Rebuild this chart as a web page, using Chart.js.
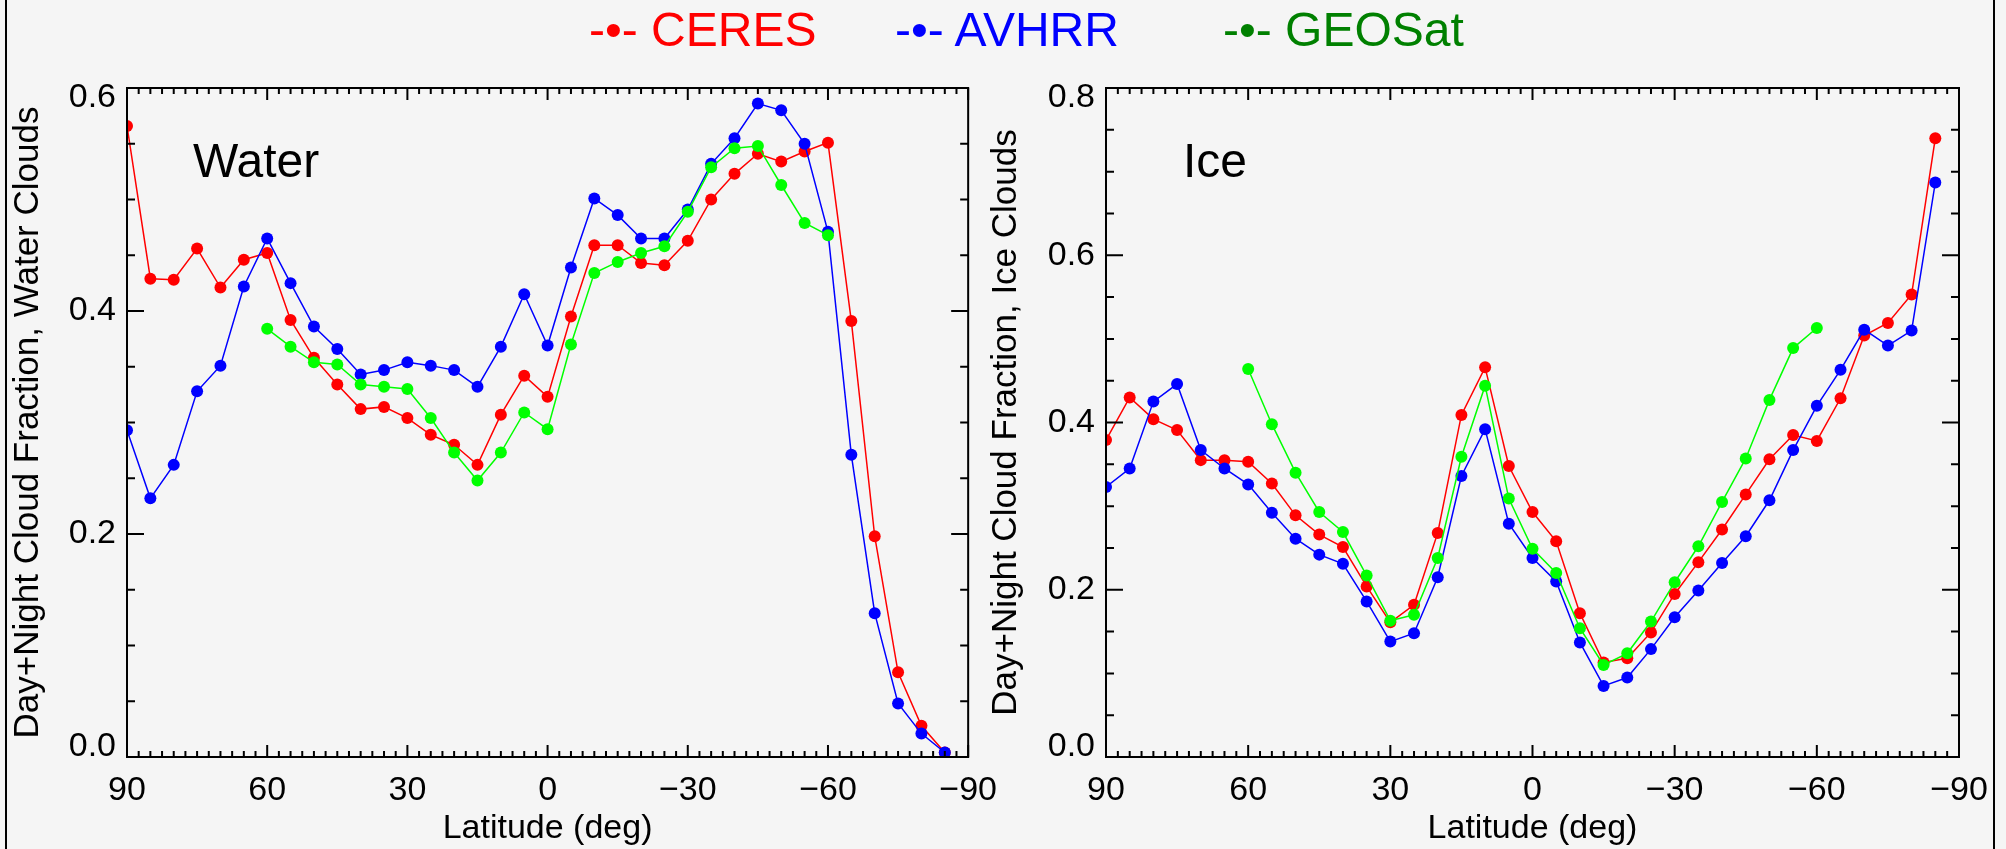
<!DOCTYPE html>
<html>
<head>
<meta charset="utf-8">
<script src="https://cdn.jsdelivr.net/npm/chart.js@4/dist/chart.umd.min.js"></script>
<style>
html, body { margin: 0; padding: 0; }
body { width: 2006px; height: 849px; background: #f5f5f5; position: relative; overflow: hidden;
       font-family: "Liberation Sans", Arial, sans-serif; }
canvas { position: absolute; top: 0; }
#water { left: 0; }
#ice { left: 975px; }
.txt { position: absolute; font-size: 48px; line-height: 48px; white-space: pre; }
.edge { position: absolute; top: 0; width: 2px; height: 849px; background: #000; }
</style>
</head>
<body>
<div class="edge" style="left:5px"></div>
<div class="edge" style="left:1993px"></div>
<canvas id="water" width="1010" height="849"></canvas>
<canvas id="ice" width="1031" height="849"></canvas>
<div class="txt" style="left:589px;top:6px;color:#ff0000">-•- CERES</div>
<div class="txt" style="left:895px;top:6px;color:#0000ff">-•- AVHRR</div>
<div class="txt" style="left:1223px;top:6px;color:#008000">-•- GEOSat</div>
<div class="txt" style="left:193px;top:137px;color:#000">Water</div>
<div class="txt" style="left:1183px;top:137px;color:#000">Ice</div>
<script>
// latitude bins, 5 deg
var lat = [90, 85, 80, 75, 70, 65, 60, 55, 50, 45, 40, 35, 30, 25, 20, 15, 10, 5, 0,
           -5, -10, -15, -20, -25, -30, -35, -40, -45, -50, -55, -60, -65, -70, -75, -80, -85];
var xTicks = [90, 60, 30, 0, -30, -60, -90];

// water clouds
var waterCeres = [0.566, 0.429, 0.428, 0.456, 0.421, 0.446, 0.452, 0.392, 0.358, 0.334, 0.312, 0.314, 0.304, 0.289, 0.280, 0.262, 0.307, 0.342, 0.323,
                  0.395, 0.459, 0.459, 0.443, 0.441, 0.463, 0.500, 0.523, 0.541, 0.534, 0.543, 0.551, 0.391, 0.198, 0.076, 0.028, 0.004];
var waterAvhrr = [0.293, 0.232, 0.262, 0.328, 0.351, 0.422, 0.465, 0.425, 0.386, 0.366, 0.343, 0.347, 0.354, 0.351, 0.347, 0.332, 0.368, 0.415, 0.369,
                  0.439, 0.501, 0.486, 0.465, 0.465, 0.491, 0.532, 0.555, 0.586, 0.580, 0.550, 0.471, 0.271, 0.129, 0.048, 0.021, 0.004];
var waterGeo = [null, null, null, null, null, null, 0.384, 0.368, 0.354, 0.352, 0.334, 0.332, 0.330, 0.304, 0.273, 0.248, 0.273, 0.309, 0.294,
                0.370, 0.434, 0.444, 0.452, 0.458, 0.489, 0.529, 0.546, 0.548, 0.513, 0.479, 0.468, null, null, null, null, null];

// ice clouds
var iceCeres = [0.379, 0.430, 0.404, 0.391, 0.355, 0.355, 0.353, 0.327, 0.289, 0.266, 0.251, 0.204, 0.161, 0.182, 0.268, 0.409, 0.466, 0.348, 0.293,
                0.258, 0.172, 0.113, 0.118, 0.149, 0.195, 0.233, 0.272, 0.314, 0.356, 0.385, 0.378, 0.429, 0.504, 0.519, 0.553, 0.740];
var iceAvhrr = [0.323, 0.345, 0.425, 0.446, 0.367, 0.345, 0.326, 0.292, 0.261, 0.242, 0.231, 0.186, 0.138, 0.148, 0.215, 0.336, 0.392, 0.279, 0.238,
                0.210, 0.137, 0.085, 0.095, 0.129, 0.167, 0.199, 0.232, 0.264, 0.307, 0.367, 0.420, 0.463, 0.511, 0.492, 0.510, 0.687];
var iceGeo = [null, null, null, null, null, null, 0.464, 0.398, 0.340, 0.293, 0.269, 0.217, 0.163, 0.170, 0.238, 0.359, 0.444, 0.309, 0.249,
              0.220, 0.154, 0.110, 0.124, 0.162, 0.209, 0.252, 0.305, 0.357, 0.427, 0.489, 0.513, null, null, null, null, null];

var FONT = '"Liberation Sans", Arial, sans-serif';
Chart.defaults.font.family = FONT;
Chart.defaults.color = '#000';

function pts(vals) {
    return lat.map(function(v, i) { return {x: v, y: vals[i]}; });
}

function series(label, vals, color, order) {
    return {
        label: label, data: pts(vals), order: order,
        borderColor: color, backgroundColor: color, borderWidth: 1.5,
        pointRadius: 6, pointHoverRadius: 6, pointBorderWidth: 0,
        clip: 0
    };
}

// IDL style box with inward ticks on all four sides
var frameTicks = {
    id: 'frameTicks',
    afterDatasetsDraw: function(chart) {
        var ctx = chart.ctx, a = chart.chartArea;
        var xs = chart.scales.x, ys = chart.scales.y;
        ctx.save();
        ctx.strokeStyle = '#000';
        ctx.lineWidth = 2;
        ctx.beginPath();
        for (var v = -90; v <= 90; v += 2.5) {
            var px = xs.getPixelForValue(v);
            var len = Math.abs(v % 30) < 1e-6 ? 12 : 6;
            ctx.moveTo(px, a.bottom); ctx.lineTo(px, a.bottom - len);
            ctx.moveTo(px, a.top); ctx.lineTo(px, a.top + len);
        }
        var n = Math.round(ys.max / 0.05);
        for (var i = 0; i <= n; i++) {
            var py = ys.getPixelForValue(i * 0.05);
            var l = i % 4 === 0 ? 17 : 8;
            ctx.moveTo(a.left, py); ctx.lineTo(a.left + l, py);
            ctx.moveTo(a.right, py); ctx.lineTo(a.right - l, py);
        }
        ctx.stroke();
        ctx.strokeRect(a.left, a.top, a.right - a.left, a.bottom - a.top);
        ctx.restore();
    }
};

function makePanel(id, ceres, avhrr, geo, yMax, yTitle, yWidth, padRight, titlePad) {
    var isEdge = function(v) { return Math.abs(v) < 1e-9 || Math.abs(v - yMax) < 1e-9; };
    return new Chart(document.getElementById(id), {
        type: 'line',
        data: {
            datasets: [
                series('CERES', ceres, '#ff0000', 3),
                series('AVHRR', avhrr, '#0000ff', 2),
                series('GEOSat', geo, '#00ff00', 1)
            ]
        },
        options: {
            responsive: false,
            animation: false,
            devicePixelRatio: 1,
            layout: {padding: {left: 0, right: padRight, top: 88, bottom: 0}},
            plugins: {legend: {display: false}, tooltip: {enabled: false}},
            scales: {
                x: {
                    type: 'linear', min: -90, max: 90, reverse: true,
                    afterBuildTicks: function(s) { s.ticks = xTicks.map(function(v) { return {value: v}; }); },
                    afterFit: function(s) { s.height = 92; },
                    grid: {display: false, drawTicks: false},
                    border: {display: false},
                    ticks: {
                        autoSkip: false, maxRotation: 0, padding: 13,
                        font: {size: 34}, color: '#000',
                        callback: function(v) { return v < 0 ? '\u2212' + (-v) : String(v); }
                    },
                    title: {display: true, text: 'Latitude (deg)', font: {size: 34}, color: '#000', padding: {top: 0, bottom: 0}}
                },
                y: {
                    min: 0, max: yMax,
                    afterFit: function(s) { s.width = yWidth; },
                    grid: {display: false, drawTicks: false},
                    border: {display: false},
                    ticks: {
                        stepSize: 0.2, padding: 11, color: '#000',
                        font: function(c) {
                            var edge = c.tick && isEdge(c.tick.value);
                            return {size: 34, lineHeight: edge ? '20px' : 1.2};
                        },
                        callback: function(v) {
                            var s = v.toFixed(1);
                            if (Math.abs(v) < 1e-9) return [s, ''];
                            if (Math.abs(v - yMax) < 1e-9) return ['', s];
                            return s;
                        }
                    },
                    title: {display: true, text: yTitle, font: {size: 35}, color: '#000', padding: {top: titlePad, bottom: 0}}
                }
            }
        },
        plugins: [frameTicks]
    });
}

makePanel('water', waterCeres, waterAvhrr, waterGeo, 0.6, 'Day+Night Cloud Fraction, Water Clouds', 127, 36, 7);
makePanel('ice', iceCeres, iceAvhrr, iceGeo, 0.8, 'Day+Night Cloud Fraction, Ice Clouds', 131, 47, 10);
</script>
</body>
</html>
